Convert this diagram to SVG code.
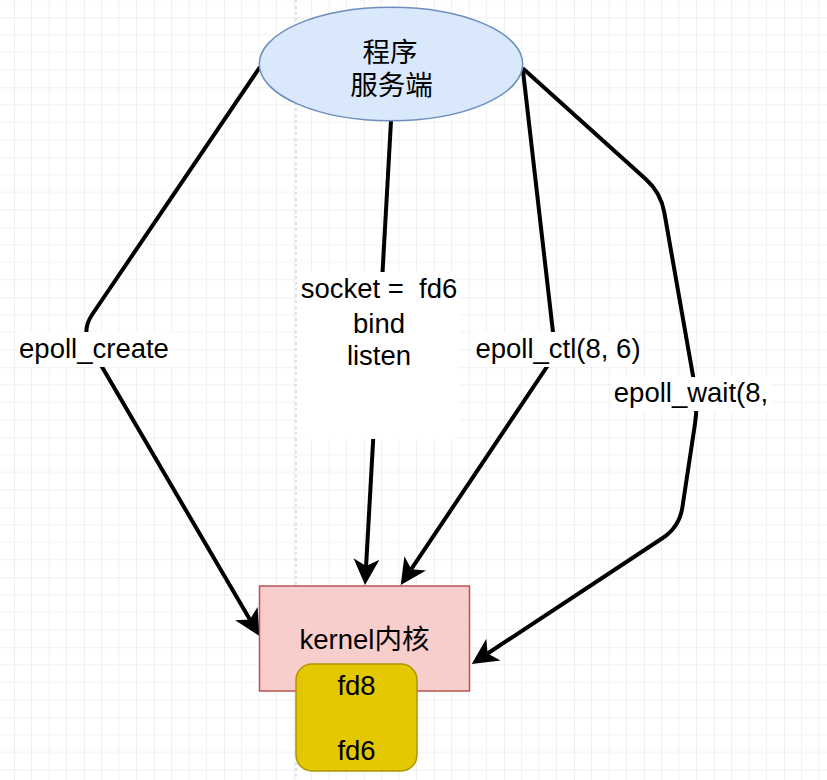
<svg xmlns="http://www.w3.org/2000/svg" width="827" height="780" viewBox="0 0 827 780">
  <style>
    text { font-family: "Liberation Sans", "Noto Sans CJK SC", Arial, sans-serif; font-size: 27.5px; fill: #000; text-anchor: middle; }
    .edge { fill: none; stroke: #000; stroke-width: 4; stroke-linejoin: round; }
    .lbg { fill: #fff; stroke: none; }
  </style>
  <defs>
    <pattern id="grid" patternUnits="userSpaceOnUse" x="14" y="17.3" width="70" height="70">
      <path d="M17.5 0V70M35 0V70M52.5 0V70M0 17.5H70M0 35H70M0 52.5H70" stroke="#f1f1f1" stroke-width="1" fill="none"/>
      <path d="M0 0V70M0 0H70" stroke="#e2e2e2" stroke-width="1" fill="none"/>
    </pattern>
    <marker id="arrow" markerUnits="userSpaceOnUse" markerWidth="30" markerHeight="30" refX="7" refY="13" orient="auto">
      <path d="M0,0 L26,13 L0,26 L7,13 Z" fill="#000"/>
    </marker>
  </defs>

  <rect width="827" height="780" fill="#fff"/>
  <rect width="827" height="780" fill="url(#grid)"/>
  <line x1="296" y1="0" x2="296" y2="780" stroke="#c8c8c8" stroke-width="1" stroke-dasharray="3 3"/>

  <g id="connectors">
    <path class="edge" d="M260,67 L92.2,314.5 Q81,331 91.1,348.3 L249.9,619.6" marker-end="url(#arrow)"/>
    <path class="edge" d="M391,121 L366.1,566" marker-end="url(#arrow)"/>
    <path class="edge" d="M522.7,68.3 L555.5,354 L411.3,569.2" marker-end="url(#arrow)"/>
    <path class="edge" d="M522.7,68.3 L645.9,179.3 Q660.8,192.7 664.3,212.4 L694.5,384.3 Q698,404 695,423.8 L682.4,507.2 Q679.4,527 662.7,538 L487.6,653.5" marker-end="url(#arrow)"/>

    <g id="label-create">
      <rect class="lbg" x="16" y="332" width="156" height="35"/>
      <text x="94" y="358">epoll_create</text>
    </g>
    <g id="label-socket">
      <rect class="lbg" x="297" y="272" width="162" height="167"/>
      <text x="379" y="298" xml:space="preserve">socket =  fd6</text>
      <text x="379" y="332.5">bind</text>
      <text x="379" y="365">listen</text>
    </g>
    <g id="label-ctl">
      <rect class="lbg" x="472" y="332" width="172" height="35"/>
      <text x="558" y="358">epoll_ctl(8, 6)</text>
    </g>
    <g id="label-wait">
      <rect class="lbg" x="612" y="377" width="160" height="34"/>
      <text x="691" y="401.5">epoll_wait(8,</text>
    </g>
  </g>

  <g id="server">
    <ellipse cx="391" cy="64" rx="131.7" ry="56.7" fill="#dae8fc" stroke="#6c8ebf" stroke-width="1.5"/>
    <text x="390" y="62">程序</text>
    <text x="391.5" y="95">服务端</text>
  </g>

  <g id="kernel">
    <rect x="259.5" y="586" width="210" height="105" fill="#f8cecc" stroke="#b85450" stroke-width="1.5"/>
    <text x="364.5" y="649">kernel内核</text>
  </g>

  <g id="fds">
    <rect x="296" y="664" width="121" height="107" rx="16" ry="16" fill="#e3c800" stroke="#b09500" stroke-width="1.5"/>
    <text x="356.5" y="694.5">fd8</text>
    <text x="356.5" y="760">fd6</text>
  </g>
</svg>
